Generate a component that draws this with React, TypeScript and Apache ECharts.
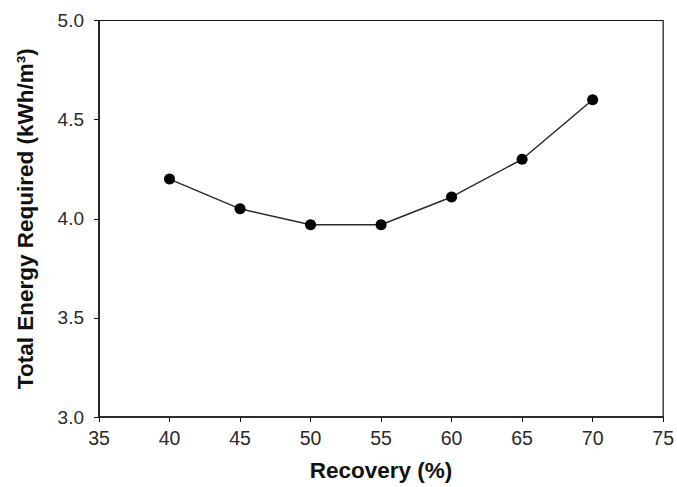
import React, { useEffect, useRef } from "react";
import * as echarts from "echarts";

const recovery = [40, 45, 50, 55, 60, 65, 70];
const energy = [4.2, 4.05, 3.97, 3.97, 4.11, 4.3, 4.6];
const xTitle = "Recovery (%)";
const yTitle = "Total Energy Required (kWh/m³)";

export default function App() {
  const ref = useRef<HTMLDivElement>(null);
  useEffect(() => {
    if (!ref.current) return;
    const chart = echarts.init(ref.current, undefined, { renderer: "svg" });
    const font = "Liberation Sans, Arial, sans-serif";
    chart.setOption({
      animation: false,
      backgroundColor: "#ffffff",
      grid: {
        left: 99,
        right: 12,
        top: 20.5,
        bottom: 68,
        show: true,
        borderColor: "#111",
        borderWidth: 1.2,
        backgroundColor: "transparent",
      },
      xAxis: {
        type: "value",
        min: 35,
        max: 75,
        interval: 5,
        name: xTitle,
        nameLocation: "middle",
        nameGap: 42,
        nameTextStyle: { fontFamily: font, fontSize: 22.5, fontWeight: "bold", color: "#111" },
        axisLine: { show: true, onZero: false, lineStyle: { color: "#111", width: 1.5 } },
        axisTick: { show: true, inside: false, length: 5, lineStyle: { color: "#111", width: 1 } },
        axisLabel: { margin: 11, fontFamily: font, fontSize: 19.5, color: "#2a2a2a" },
        splitLine: { show: false },
      },
      yAxis: {
        type: "value",
        min: 3,
        max: 5,
        interval: 0.5,
        name: yTitle,
        nameLocation: "middle",
        nameGap: 62,
        nameTextStyle: { fontFamily: font, fontSize: 22.5, fontWeight: "bold", color: "#111" },
        axisLine: { show: true, onZero: false, lineStyle: { color: "#111", width: 1.5 } },
        axisTick: { show: true, inside: false, length: 5, lineStyle: { color: "#111", width: 1 } },
        axisLabel: {
          margin: 15,
          fontFamily: font,
          fontSize: 19,
          color: "#2a2a2a",
          formatter: (v: number) => v.toFixed(1),
        },
        splitLine: { show: false },
      },
      series: [
        {
          type: "line",
          data: recovery.map((x, i) => [x, energy[i]]),
          symbol: "circle",
          symbolSize: 11,
          itemStyle: { color: "#000" },
          lineStyle: { color: "#2a2a2a", width: 1.5 },
        },
      ],
    });
    return () => chart.dispose();
  }, []);
  return (
    <div
      ref={ref}
      style={{ position: "fixed", left: 0, top: 0, width: 677, height: 487, background: "#fff" }}
    />
  );
}
